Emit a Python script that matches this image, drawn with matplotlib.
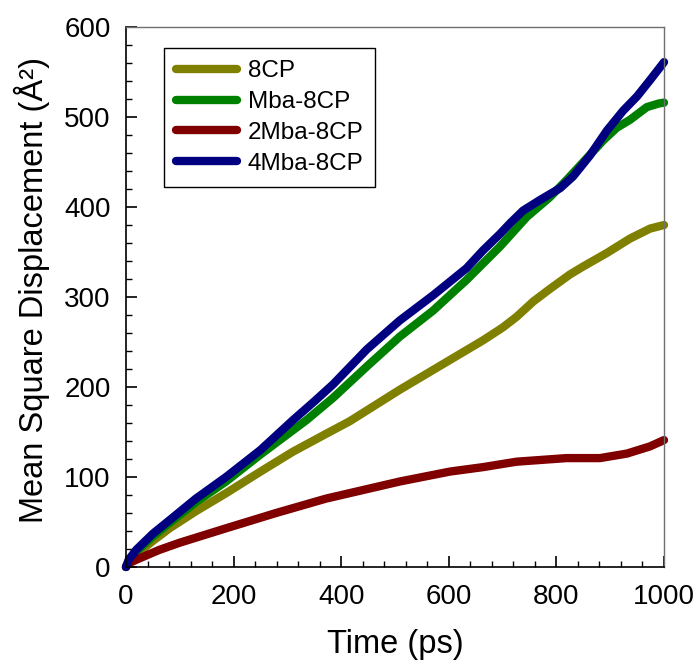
import matplotlib
matplotlib.use("Agg")
import matplotlib.pyplot as plt
from matplotlib.ticker import MultipleLocator

plt.rcParams['font.family'] = ['Liberation Sans', 'DejaVu Sans']

# 8CP
t_8cp = [0, 5, 19, 50, 81, 130, 186, 250, 310, 372, 416, 509, 602, 664, 700, 726, 757,
         788, 825, 850, 894, 937, 974, 1000]
msd_8cp = [0, 5, 14, 29, 43, 62, 82, 106, 128, 148, 162, 197, 230, 252, 266, 278, 295,
           309, 325, 334, 349, 365, 376, 380]

# Mba-8CP
t_mba = [0, 5, 19, 50, 81, 130, 186, 250, 335, 385, 448, 509, 571, 633, 695, 745,
         788, 819, 850, 887, 912, 937, 968, 990, 1000]
msd_mba = [0, 6, 17, 34, 49, 72, 95, 125, 163, 188, 223, 256, 285, 319, 356, 389,
           411, 430, 450, 474, 488, 497, 511, 515, 516]

# 2Mba-8CP
t_2mba = [0, 5, 19, 62, 100, 186, 279, 372, 509, 602, 664, 726, 819, 881, 931, 974, 1000]
msd_2mba = [0, 4, 8, 19, 27, 43, 60, 76, 95, 106, 111, 117, 121, 121, 126, 134, 141]

# 4Mba-8CP
t_4mba = [0, 5, 19, 50, 81, 130, 186, 250, 310, 350, 385, 448, 509, 571, 633, 664,
          695, 714, 738, 770, 807, 831, 862, 894, 924, 950, 974, 1000]
msd_4mba = [0, 8, 19, 37, 52, 76, 100, 130, 163, 184, 203, 242, 274, 302, 332, 352,
            370, 382, 396, 408, 421, 434, 457, 485, 507, 523, 541, 561]

series = [
    ("8CP", t_8cp, msd_8cp, "#808000"),
    ("Mba-8CP", t_mba, msd_mba, "#008000"),
    ("2Mba-8CP", t_2mba, msd_2mba, "#800000"),
    ("4Mba-8CP", t_4mba, msd_4mba, "#000080"),
]

fig = plt.figure(figsize=(6.98, 6.69), dpi=100)
ax = fig.add_axes([0.1805, 0.1525, 0.7708, 0.8071])

for name, t, m, c in series:
    ax.plot(t, m, color=c, lw=6, label=name, solid_capstyle='round',
            solid_joinstyle='round', clip_on=False)

ax.set_xlim(0, 1000)
ax.set_ylim(0, 600)
ax.xaxis.set_major_locator(MultipleLocator(200))
ax.xaxis.set_minor_locator(MultipleLocator(40))
ax.yaxis.set_major_locator(MultipleLocator(100))
ax.yaxis.set_minor_locator(MultipleLocator(20))

ax.tick_params(which='both', direction='in', top=False, right=False, colors='black')
ax.tick_params(which='major', length=8, width=1.2, labelsize=20)
ax.tick_params(axis='x', which='major', pad=12)
ax.tick_params(axis='y', which='major', pad=11)
ax.tick_params(which='minor', length=4, width=1)

for s in ['left', 'bottom']:
    ax.spines[s].set_color('black')
    ax.spines[s].set_linewidth(1.2)
for s in ['top', 'right']:
    ax.spines[s].set_color('#707070')
    ax.spines[s].set_linewidth(1)

ax.set_xlabel("Time (ps)", fontsize=23.5)
ax.set_ylabel("Mean Square Displacement (Å²)", fontsize=23.5)
ax.xaxis.set_label_coords(0.5, -0.115)
ax.yaxis.set_label_coords(-0.141, 0.513)

leg = ax.legend(loc='upper left', bbox_to_anchor=(0.07, 0.961), fontsize=17.5,
                frameon=True, fancybox=False, framealpha=1, edgecolor='black',
                handlelength=2.5, handletextpad=0.45, labelspacing=0.36,
                borderaxespad=0, borderpad=0.5)
leg.get_frame().set_linewidth(1)
for ln in leg.get_lines():
    ln.set_linewidth(6)
    ln.set_solid_capstyle('round')

fig.savefig("out.png", dpi=100)
